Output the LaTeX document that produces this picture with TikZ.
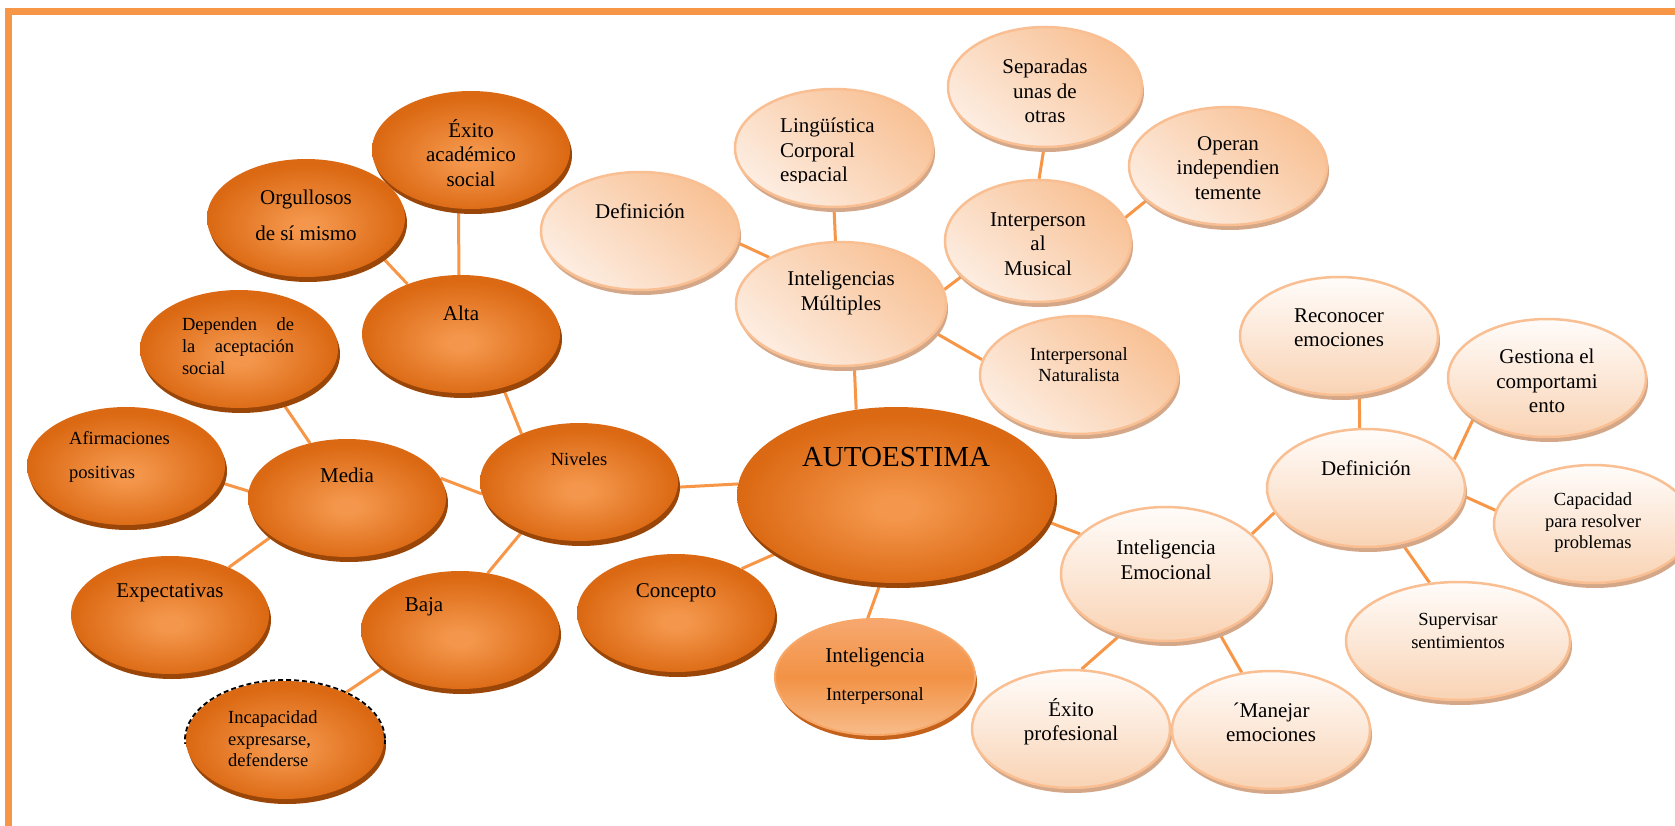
\documentclass[tikz,border=0pt]{standalone}
\usepackage{fontspec}
\setmainfont{Liberation Serif}
\usetikzlibrary{shapes.geometric,shadows}
\pgfdeclarelayer{background}
\pgfsetlayers{background,main}
\definecolor{orL}{HTML}{F4974C}
\definecolor{orD}{HTML}{DB6812}
\definecolor{orS}{HTML}{9A4608}
\definecolor{peA}{HTML}{F8C195}
\definecolor{peB}{HTML}{FDEDE1}
\definecolor{peBord}{HTML}{F9BF92}
\definecolor{peS}{HTML}{D3A787}
\definecolor{whT}{HTML}{FFFCFA}
\definecolor{whB}{HTML}{F9D3B4}
\definecolor{lineC}{HTML}{F79646}
\definecolor{ipTopc}{HTML}{F7A870}
\definecolor{ipMid}{HTML}{F29245}
\definecolor{ipBot}{HTML}{F8BC8A}
\definecolor{ipBord}{HTML}{F7A767}
\definecolor{ipS}{HTML}{C4621C}
\pgfdeclareradialshading{orb}{\pgfpoint{0bp}{-4bp}}{color(0bp)=(orL); color(3bp)=(orL); color(25bp)=(orD); color(50bp)=(orD)}
\pgfdeclareverticalshading{ipsh}{100bp}{color(0bp)=(ipBot); color(25bp)=(ipBot); color(50bp)=(ipMid); color(75bp)=(ipTopc); color(100bp)=(ipTopc)}
\begin{document}
\begin{tikzpicture}[x=1pt,y=-1pt,
  dk/.style={ellipse, inner sep=0pt, minimum width=198pt, minimum height=118pt, shading=orb,
    drop shadow={shadow xshift=2pt, shadow yshift=-5pt, fill=orS, opacity=1}},
  pl/.style={ellipse, inner sep=0pt, minimum width=198pt, minimum height=118pt, draw=peBord, line width=2.5pt,
    top color=peA, bottom color=peB, shading angle=-40,
    drop shadow={shadow xshift=2pt, shadow yshift=-5pt, fill=peS, opacity=1}},
  wh/.style={pl, top color=whT, bottom color=whB, shading angle=0},
  ipn/.style={ellipse, inner sep=0pt, minimum width=200pt, minimum height=116pt, shading=ipsh, draw=ipBord, line width=2pt,
    drop shadow={shadow xshift=2pt, shadow yshift=-5pt, fill=ipS, opacity=1}},
  sz/.style 2 args={minimum width=#1pt, minimum height=#2pt},
  ln/.style={draw=lineC, line width=3pt},
  tx/.style={font=\fontsize{21}{24.5}\selectfont, align=center, inner sep=0pt},
  txs/.style={font=\fontsize{18.5}{22}\selectfont, align=center, inner sep=0pt},
  framebar/.style={draw=lineC, line width=7pt}
]
\useasboundingbox (0,0) rectangle (1675,826);
\begin{pgfonlayer}{background}
\fill[white] (0,0) rectangle (1675,826);
\end{pgfonlayer}
\draw[framebar] (5,11.5) -- (1675,11.5);
\draw[framebar] (8.5,8) -- (8.5,826);

% bubbles
\node[dk] (exac) at (471,150) {};
\node[dk] (orgu) at (306,218) {};
\node[dk] (alta) at (461,334) {};
\node[dk] (depe) at (239,349) {};
\node[dk] (afir) at (126,466) {};
\node[dk] (media) at (347,498) {};
\node[dk] (expe) at (170,615) {};
\node[dk] (baja) at (460,630) {};
\node[dk] (inca) at (285,740) {};
\node[dk] (nive) at (579,482) {};
\node[dk, sz={318}{176}] (auto) at (896,495) {};
\node[dk] (conc) at (676,613) {};
\node[ipn] (intp) at (875,677) {};
\node[pl] (defL) at (640,231) {};
\node[pl] (ling) at (834,148) {};
\node[pl, sz={210}{124}] (imul) at (841,304) {};
\node[pl, sz={194}{120}] (sepa) at (1045,87) {};
\node[pl] (oper) at (1228,166) {};
\node[pl, sz={186}{122}] (imus) at (1038,241) {};
\node[pl] (natu) at (1079,375) {};
\node[wh] (reco) at (1339,336) {};
\node[wh] (gest) at (1547,378) {};
\node[wh] (defR) at (1366,488) {};
\node[wh] (capa) at (1593,524) {};
\node[wh, sz={224}{118}] (supe) at (1458,641) {};
\node[wh, sz={210}{134}] (iemo) at (1166,574) {};
\node[wh] (expr) at (1071,729) {};
\node[wh] (mane) at (1271,730) {};

% dashed artefact on Incapacidad
\begin{scope}
\clip (180,660) rectangle (400,743);
\draw[black, line width=1.8pt, dash pattern=on 5pt off 3pt] (inca.center) ellipse [x radius=100, y radius=60];
\end{scope}

% connectors
\begin{pgfonlayer}{background}
\draw[ln] (exac.258) -- (alta.92);
\draw[ln] (orgu.333) -- (alta.137);
\draw[ln] (alta.308) -- (nive.140);
\draw[ln] (depe.309) -- (media.124);
\draw[ln] (afir.350) -- (media.176);
\draw[ln] (expe.39) -- (media.207);
\draw[ln] (media.12) -- (nive.187);
\draw[ln] (nive.221) -- (baja.64);
\draw[ln] (baja.206) -- (inca.38);
\draw[ln] (nive.357) -- (auto.176);
\draw[ln] (conc.34) -- (auto.206);
\draw[ln] (intp.97) -- (auto.260);
\draw[ln] (auto.115) -- (imul.282);
\draw[ln] (imul.147) -- (defL.353);
\draw[ln] (imul.95) -- (ling.270);
\draw[ln] (imul.8) -- (imus.205);
\draw[ln] (imul.343) -- (natu.171);
\draw[ln] (imus.89) -- (sepa.269);
\draw[ln] (imus.15) -- (oper.203);
\draw[ln] (auto.350) -- (iemo.155);
\draw[ln] (iemo.25) -- (defR.195);
\draw[ln] (iemo.233) -- (expr.80);
\draw[ln] (iemo.312) -- (mane.117);
\draw[ln] (defR.96) -- (reco.289);
\draw[ln] (defR.18) -- (gest.209);
\draw[ln] (defR.355) -- (capa.172);
\draw[ln] (defR.303) -- (supe.116);
\end{pgfonlayer}

% texts
\node[tx] (exac-t) at ([yshift=-3pt]exac) {Éxito\\académico\\social};
\node[tx, font=\fontsize{21}{36}\selectfont] (orgu-t) at ([yshift=3pt]orgu) {Orgullosos\\de sí mismo};
\node[tx] (alta-t) at ([yshift=21pt]alta) {Alta};
\node[txs, text width=112pt, align=left] (depe-t) at ([xshift=-1pt,yshift=3pt]depe) {Dependen\hfill de\\la\hfill aceptación\\social};
\node[txs, align=left, anchor=west, font=\fontsize{18.5}{34}\selectfont] (afir-t) at ([xshift=-57pt,yshift=9pt]afir) {Afirmaciones\\positivas};
\node[tx] (media-t) at ([yshift=23pt]media) {Media};
\node[tx] (expe-t) at ([yshift=22pt]expe) {Expectativas};
\node[tx] (baja-t) at ([xshift=-36pt,yshift=23pt]baja) {Baja};
\node[txs, align=left, anchor=west, font=\fontsize{18.5}{21.5}\selectfont] (inca-t) at ([xshift=-57pt,yshift=1pt]inca) {Incapacidad\\expresarse,\\defenderse};
\node[txs] (nive-t) at ([yshift=23pt]nive) {Niveles};
\node[tx, font=\fontsize{29}{34}\selectfont] (auto-t) at ([yshift=38pt]auto) {AUTOESTIMA};
\node[tx] (conc-t) at ([yshift=20pt]conc) {Concepto};
\node[tx, font=\fontsize{21}{38}\selectfont] (intp-t) at ([yshift=1pt]intp) {Inteligencia\\{\fontsize{18.5}{22}\selectfont Interpersonal}};
\node[tx] (expr-t) at ([yshift=7.5pt]expr) {Éxito\\profesional};
\node[tx] (defL-t) at ([yshift=20pt]defL) {Definición};
\begin{scope}
\clip (730,60) rectangle (940,183);
\node[tx, align=left, anchor=west] (ling-t) at ([xshift=-54pt,yshift=-4pt]ling) {Lingüística\\Corporal\\espacial};
\end{scope}
\node[tx] (imul-t) at ([yshift=11pt]imul) {Inteligencias\\Múltiples};
\node[tx] (sepa-t) at ([yshift=-4pt]sepa) {Separadas\\unas de\\otras};
\node[tx] (imus-t) at ([yshift=-3pt]imus) {Interperson\\al\\Musical};
\node[txs, font=\fontsize{18.5}{21}\selectfont] (natu-t) at ([yshift=10pt]natu) {Interpersonal\\Naturalista};
\node[tx] (oper-t) at ([yshift=-2pt]oper) {Operan\\independien\\temente};
\node[tx] (reco-t) at ([yshift=8.5pt]reco) {Reconocer\\emociones};
\begin{scope}
\clip (1440,300) rectangle (1660,412);
\node[tx] (gest-t) at ([yshift=-3pt]gest) {Gestiona el\\comportami\\ento};
\end{scope}
\node[tx] (defR-t) at ([yshift=20pt]defR) {Definición};
\node[txs, font=\fontsize{18.5}{21.5}\selectfont] (capa-t) at ([yshift=1pt]capa) {Capacidad\\para resolver\\problemas};
\node[txs, font=\fontsize{18.5}{23}\selectfont] (supe-t) at ([yshift=10.5pt]supe) {Supervisar\\sentimientos};
\node[tx] (iemo-t) at ([yshift=14pt]iemo) {Inteligencia\\Emocional};
\node[tx] (mane-t) at ([yshift=7.5pt]mane) {´Manejar\\emociones};
\end{tikzpicture}
\end{document}
